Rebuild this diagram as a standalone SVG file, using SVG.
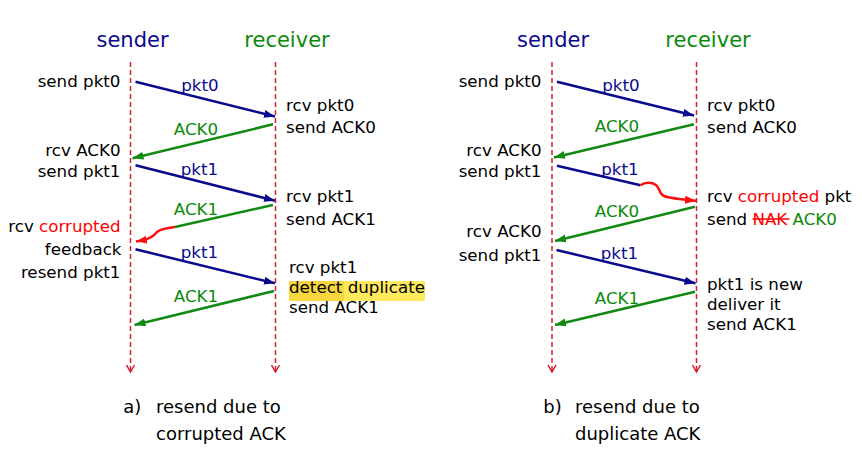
<svg xmlns="http://www.w3.org/2000/svg" width="862" height="464" viewBox="0 0 862 464">
<style>
text{font-family:"DejaVu Sans","Verdana",sans-serif;font-size:16.7px;fill:#000}
.t{font-size:21px}
.cap{font-size:18px}
.navy{fill:#0A0A8C}
.grn{fill:#0A8A0A}
.red{fill:#FF0000}
.r{text-anchor:end}
.m{text-anchor:middle}
.life{stroke:#D42030;stroke-width:1.5;stroke-dasharray:5 3;fill:none}
.pk{stroke:#0A0A8C;stroke-width:2.5;fill:none;marker-end:url(#ab)}
.ak{stroke:#128A12;stroke-width:2.5;fill:none;marker-end:url(#ag)}
.er{stroke:#FF1010;stroke-width:2.5;fill:none}
</style>
<defs>
<marker id="ab" markerUnits="userSpaceOnUse" markerWidth="12" markerHeight="10" refX="11" refY="4" orient="auto"><path d="M0,0 L11,4 L0,8 z" fill="#0A0A8C"/></marker>
<marker id="ag" markerUnits="userSpaceOnUse" markerWidth="12" markerHeight="10" refX="11" refY="4" orient="auto"><path d="M0,0 L11,4 L0,8 z" fill="#128A12"/></marker>
<marker id="ar" markerUnits="userSpaceOnUse" markerWidth="12" markerHeight="10" refX="11" refY="4" orient="auto"><path d="M0,0 L11,4 L0,8 z" fill="#FF1010"/></marker>
<marker id="av" markerUnits="userSpaceOnUse" markerWidth="12" markerHeight="12" refX="5" refY="8" orient="0"><path d="M1,1 L5,8 L9,1" fill="none" stroke="#D42030" stroke-width="1.5"/></marker>
</defs>
<rect width="862" height="464" fill="#fff"/>

<g id="panelA">
<g id="a-sender"><text class="t navy m" x="132.5" y="47">sender</text><path class="life" d="M130.5,62 V372" marker-end="url(#av)"/></g>
<g id="a-receiver"><text class="t grn m" x="287" y="47">receiver</text><path class="life" d="M275.5,62 V372" marker-end="url(#av)"/></g>
<g id="a-sender-events">
<text class="r" x="120.5" y="86.7">send pkt0</text>
<text class="r" x="120.5" y="156">rcv ACK0</text>
<text class="r" x="120.5" y="177.3">send pkt1</text>
<text class="r" x="120.5" y="231.7">rcv <tspan class="red">corrupted</tspan></text>
<text class="r" x="121.5" y="255">feedback</text>
<text class="r" x="120.5" y="278.3">resend pkt1</text>
</g>
<g id="a-receiver-events">
<text x="286" y="110.7">rcv pkt0</text>
<text x="286" y="133.3">send ACK0</text>
<text x="286" y="201.7">rcv pkt1</text>
<text x="286" y="225">send ACK1</text>
<rect x="289" y="281" width="55" height="20" fill="#F8D640"/>
<rect x="344" y="281" width="81" height="20" fill="#FFEA5E"/>
<text x="289" y="272.7">rcv pkt1</text>
<text x="289" y="293.3">detect duplicate</text>
<text x="289" y="313.3">send ACK1</text>
</g>
<g id="a-connectors">
<path class="pk" d="M135.5,81.7 L275,116.5"/>
<text class="navy m" x="200" y="90.5">pkt0</text>
<path class="ak" d="M273,124.3 L132.5,158.3"/>
<text class="grn m" x="196" y="135">ACK0</text>
<path class="pk" d="M135.5,165.3 L275,200.7"/>
<text class="navy m" x="199.5" y="175">pkt1</text>
<path d="M273,205 L175,227" stroke="#128A12" stroke-width="2.5" fill="none"/>
<path class="er" d="M175,227 C166,228 160,229 157,232 C154,236 150,239 136,241.5" marker-end="url(#ar)"/>
<text class="grn m" x="196" y="215">ACK1</text>
<path class="pk" d="M135.5,249.3 L275,283.3"/>
<text class="navy m" x="199.5" y="258.3">pkt1</text>
<path class="ak" d="M274,291 L134.5,325"/>
<text class="grn m" x="196" y="302.3">ACK1</text>
</g>
<g id="a-caption">
<text class="cap" x="123.3" y="413">a)</text>
<text class="cap" x="156" y="413">resend due to</text>
<text class="cap" x="156" y="440">corrupted ACK</text>
</g>
</g>

<g id="panelB">
<g id="b-sender"><text class="t navy m" x="553" y="47">sender</text><path class="life" d="M552,62 V372" marker-end="url(#av)"/></g>
<g id="b-receiver"><text class="t grn m" x="708" y="47">receiver</text><path class="life" d="M696.5,62 V372" marker-end="url(#av)"/></g>
<g id="b-sender-events">
<text class="r" x="541.5" y="86.7">send pkt0</text>
<text class="r" x="541.5" y="156">rcv ACK0</text>
<text class="r" x="541.5" y="177.3">send pkt1</text>
<text class="r" x="541.5" y="237.3">rcv ACK0</text>
<text class="r" x="541.5" y="260.7">send pkt1</text>
</g>
<g id="b-receiver-events">
<text x="707" y="110.7">rcv pkt0</text>
<text x="707" y="133.3">send ACK0</text>
<text x="707" y="201.7">rcv <tspan class="red">corrupted</tspan> pkt</text>
<text x="707" y="225">send <tspan class="red">NAK</tspan> <tspan class="grn">ACK0</tspan></text>
<line x1="752.5" y1="219" x2="789.5" y2="219" stroke="#FF0000" stroke-width="1.5"/>
<text x="707" y="290">pkt1 is new</text>
<text x="707" y="310">deliver it</text>
<text x="707" y="329.5">send ACK1</text>
</g>
<g id="b-connectors">
<path class="pk" d="M557,81.7 L694,115.5"/>
<text class="navy m" x="621" y="90.5">pkt0</text>
<path class="ak" d="M694,124.3 L554,157.5"/>
<text class="grn m" x="617" y="132">ACK0</text>
<path d="M557,165.7 L640.5,185.3" stroke="#0A0A8C" stroke-width="2.5" fill="none"/>
<path class="er" d="M640.5,185.3 C645,182 652,182 656,185 C660,188 659,194 664,196 C670,198.5 682,199.5 696,200.7" marker-end="url(#ar)"/>
<text class="navy m" x="620" y="175">pkt1</text>
<path class="ak" d="M695,206.7 L555,241"/>
<text class="grn m" x="617" y="217">ACK0</text>
<path class="pk" d="M556.5,250 L695.5,283.3"/>
<text class="navy m" x="619.5" y="259">pkt1</text>
<path class="ak" d="M695,291.7 L555,325"/>
<text class="grn m" x="617" y="304">ACK1</text>
</g>
<g id="b-caption">
<text class="cap" x="543.3" y="413">b)</text>
<text class="cap" x="575" y="413">resend due to</text>
<text class="cap" x="575" y="440">duplicate ACK</text>
</g>
</g>
</svg>
